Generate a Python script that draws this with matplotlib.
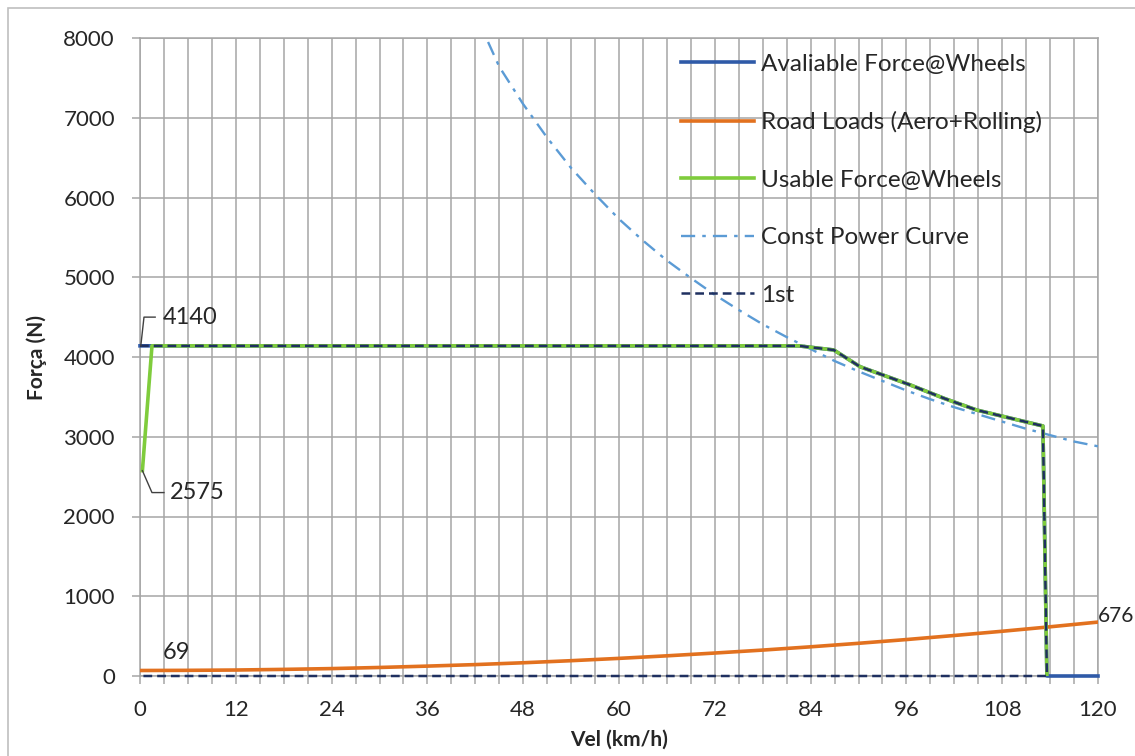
import numpy as np
import matplotlib
matplotlib.use("Agg")
import matplotlib.pyplot as plt
from matplotlib.patches import Rectangle
from matplotlib.ticker import MultipleLocator

plt.rcParams['font.family'] = ['Lato', 'DejaVu Sans']

# available force at the wheels (engine curve)
avail_v = [0, 82.5, 86.9, 90.2, 96.5, 100.7, 104.8, 113.1, 113.6, 120]
avail_f = [4140, 4140, 4088, 3878, 3649, 3482, 3335, 3135, 0, 0]

# usable force (traction limited at start)
usable_v = [0.3, 1.5, 82.5, 86.9, 90.2, 96.5, 100.7, 104.8, 113.1, 113.6]
usable_f = [2575, 4140, 4140, 4088, 3878, 3649, 3482, 3335, 3135, 0]

# 1st gear
first_v = [0, 82.5, 86.9, 90.2, 96.5, 100.7, 104.8, 113.1, 113.6, 0]
first_f = [4140, 4140, 4088, 3878, 3649, 3482, 3335, 3135, 0, 0]

# road loads
road_v = [0, 6, 12, 18, 24, 30, 36, 42, 48, 54, 60, 66, 72, 78, 84, 90, 96, 102, 108, 114, 120]
road_f = [69, 71, 75, 83, 93, 107, 124, 143, 166, 192, 221, 253, 288, 325, 366, 410, 457, 508, 561, 617, 676]

# constant power curve
power_v = [43.6, 45, 48, 51, 54, 57, 60, 63, 66, 69, 72, 75, 78, 81, 84, 87, 90, 93, 96, 99,
           102, 105, 108, 111, 114, 117, 120]
power_f = [7950, 7640, 7170, 6750, 6370, 6040, 5730, 5460, 5210, 4990, 4780, 4590, 4410, 4250,
           4100, 3950, 3820, 3700, 3580, 3470, 3370, 3280, 3190, 3100, 3020, 2940, 2880]

txt = '#262626'
gridc = '#a6a6a6'

fig = plt.figure(figsize=(11.35, 7.56), dpi=100)
ax = fig.add_axes([140/1135, 1-676/756, 958/1135, 638/756])

fig.patches.append(Rectangle((8/1135, -0.1), 1.2, 1.1 - 8/756, transform=fig.transFigure,
                             fill=False, edgecolor='#bfbfbf', linewidth=1.2))

ax.plot(avail_v, avail_f, color='#2f5aa8', lw=2.6, label='Avaliable Force@Wheels', zorder=3, clip_on=False)
ax.plot(road_v, road_f, color='#e2711f', lw=2.6, label='Road Loads (Aero+Rolling)', zorder=3)
ax.plot(usable_v, usable_f, color='#7fcc3c', lw=2.6, label='Usable Force@Wheels', zorder=4)
ax.plot(power_v, power_f, color='#5b9bd5', lw=1.7, dashes=(6, 3, 1.5, 3),
        label='Const Power Curve', zorder=3)
ax.plot(first_v, first_f, color='#1f3060', lw=1.8, dashes=(3.5, 2), label='1st', zorder=5, clip_on=False)

ax.set_xlim(0, 120)
ax.set_ylim(0, 8000)
ax.xaxis.set_major_locator(MultipleLocator(12))
ax.xaxis.set_minor_locator(MultipleLocator(3))
ax.yaxis.set_major_locator(MultipleLocator(1000))
ax.grid(which='both', color=gridc, lw=1.1)
ax.set_axisbelow(True)
for s in ax.spines.values():
    s.set_color(gridc)
    s.set_linewidth(1.1)
ax.tick_params(which='both', direction='out', length=6, color=gridc, width=1.1)
ax.tick_params(axis='x', labelsize=16, pad=11, labelcolor=txt)
ax.tick_params(axis='y', labelsize=16, pad=12, labelcolor=txt)

ax.set_xlabel('Vel (km/h)', fontsize=15, fontweight='bold', color=txt, labelpad=7)
ax.set_ylabel('Força (N)', fontsize=15, fontweight='bold', color=txt, labelpad=12)

# data labels with leader lines
ax.plot([0.1, 0.5, 1.9], [4140, 4500, 4500], color='#404040', lw=1, zorder=6)
ax.text(2.9, 4500, '4140', fontsize=17, color=txt, va='center', ha='left')
ax.plot([0.3, 1.5, 3.0], [2575, 2300, 2300], color='#404040', lw=1, zorder=6)
ax.text(3.8, 2300, '2575', fontsize=17, color=txt, va='center', ha='left')
ax.text(2.9, 69 + 220, '69', fontsize=17, color=txt, va='center', ha='left')
ax.text(119.95, 676 + 80, '676', fontsize=15, color=txt, va='center', ha='left', clip_on=False)

leg = ax.legend(loc='upper left', bbox_to_anchor=(0.548, 1.0), frameon=False, fontsize=17.5,
                handlelength=3.0, handletextpad=0.3, labelspacing=1.5, borderaxespad=0.25)
for t in leg.get_texts():
    t.set_color(txt)

fig.savefig('out.png', dpi=100)
